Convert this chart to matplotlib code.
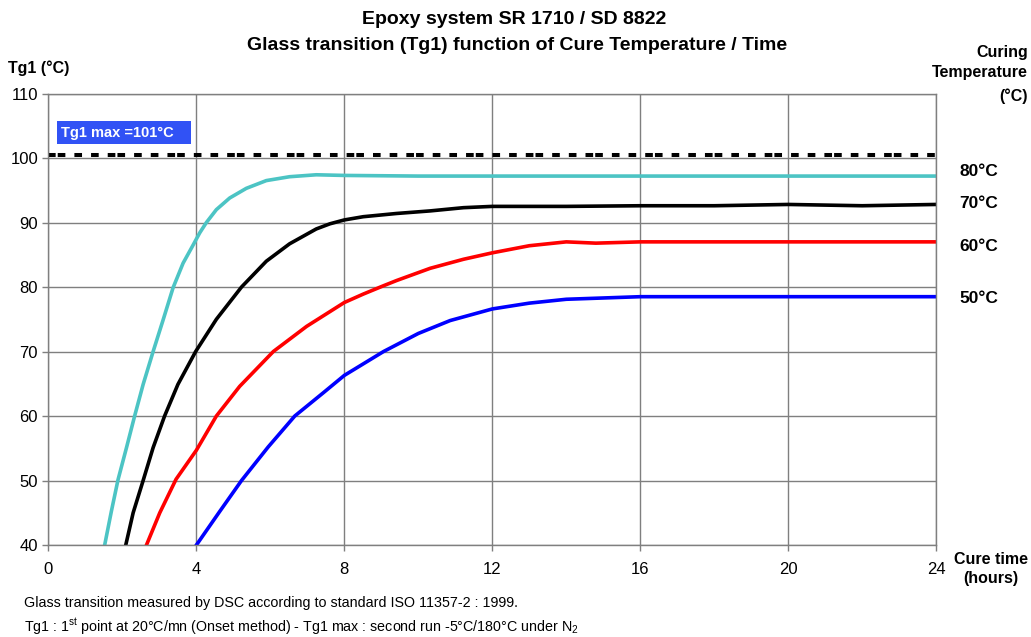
import numpy as np
import matplotlib
matplotlib.use("Agg")
import matplotlib.pyplot as plt
from matplotlib.patches import Rectangle

plt.rcParams['font.family'] = ['Liberation Sans', 'DejaVu Sans']
plt.rcParams['mathtext.default'] = 'regular'
plt.rcParams['lines.scale_dashes'] = False

# Tg1 readings (deg C) against cure time (hours), one series per curing temperature
t80 = [1.52, 1.70, 1.88, 2.11, 2.33, 2.56, 2.83, 3.10, 3.37, 3.64, 3.91, 4.09, 4.27,
       4.54, 4.90, 5.35, 5.89, 6.52, 7.24, 8, 10, 12, 16, 20, 24]
tg80 = [40, 45.2, 50.1, 55.1, 60, 64.9, 70, 74.9, 79.9, 83.7, 86.5, 88.4, 90,
        92.0, 93.8, 95.3, 96.5, 97.1, 97.4, 97.3, 97.2, 97.2, 97.2, 97.2, 97.2]

t70 = [2.09, 2.29, 2.56, 2.83, 3.14, 3.50, 3.98, 4.54, 5.22, 5.89, 6.52, 7.24, 7.61,
       8.0, 8.51, 9.41, 10.32, 11.22, 12, 13, 14, 16, 18, 20, 22, 24]
tg70 = [40, 45, 50, 55.1, 60, 64.9, 70, 75, 80, 84.0, 86.7, 89.0, 89.8,
        90.4, 90.9, 91.4, 91.8, 92.3, 92.5, 92.5, 92.5, 92.6, 92.6, 92.8, 92.6, 92.8]

t60 = [2.65, 3.01, 3.45, 4.0, 4.54, 5.17, 6.08, 6.98, 8.0, 8.51, 9.06, 9.41, 10.32,
       11.22, 12.0, 13.0, 14.0, 14.8, 16, 20, 24]
tg60 = [40, 45, 50.2, 54.7, 60, 64.6, 70, 73.9, 77.6, 78.9, 80.2, 81.0, 82.9,
        84.3, 85.3, 86.4, 87.0, 86.8, 87.0, 87.0, 87.0]

t50 = [4.0, 4.63, 5.22, 5.94, 6.66, 7.43, 8.0, 9.06, 10.0, 10.86, 12, 13, 14, 16, 20, 24]
tg50 = [40, 45.2, 50, 55.2, 60, 63.6, 66.3, 70.0, 72.8, 74.8, 76.6, 77.5, 78.1, 78.5, 78.5, 78.5]

tg1_max = 100.5
series_labels = ['80°C', '70°C', '60°C', '50°C']
label_levels = [97.9, 92.9, 86.3, 78.2]

fig = plt.figure(figsize=(10.31, 6.37), dpi=100)
ax = fig.add_axes([0.047, 0.1444, 0.861, 0.7088])

grey = '#7f7f7f'
ax.set_xlim(0, 24)
ax.set_ylim(40, 110)
ax.set_xticks(np.arange(0, 25, 4))
ax.set_yticks(np.arange(40, 111, 10))
ax.grid(True, color=grey, lw=1.0)
ax.set_axisbelow(True)
for s in ax.spines.values():
    s.set_color(grey)
    s.set_linewidth(1.0)
ax.tick_params(axis='both', colors=grey, labelcolor='black', labelsize=12,
               length=4, width=1.0)
ax.tick_params(axis='x', pad=8)

ax.plot([0, 24], [tg1_max, tg1_max], color='black', lw=2.9,
        dashes=(5.5, 1.5, 5.5, 6.5, 5.5, 6.5, 5.5, 6.5), dash_capstyle='butt')

ax.plot(t80, tg80, color='#4cc4c4', lw=2.6, solid_joinstyle='round')
ax.plot(t70, tg70, color='black', lw=2.6, solid_joinstyle='round')
ax.plot(t60, tg60, color='#ff0000', lw=2.6, solid_joinstyle='round')
ax.plot(t50, tg50, color='#0000ff', lw=2.6, solid_joinstyle='round')

for lab, lev in zip(series_labels, label_levels):
    ax.text(1.026, lev, lab, transform=ax.get_yaxis_transform(), fontsize=12.5,
            fontweight='bold', va='center', ha='left')

# Tg1 max box
ax.add_patch(Rectangle((0.23, 102.2), 3.62, 3.5, fc='#3152f5', ec='none', zorder=3))
ax.text(0.33, 103.95, 'Tg1 max =101°C', fontsize=10.5, fontweight='bold', color='white',
        va='center', ha='left', zorder=4)

fig.text(0.499, 0.969, 'Epoxy system SR 1710 / SD 8822', ha='center', va='center',
         fontsize=14, fontweight='bold')
fig.text(0.502, 0.929, 'Glass transition (Tg1) function of Cure Temperature / Time',
         ha='center', va='center', fontsize=14, fontweight='bold')
fig.text(0.008, 0.893, 'Tg1 (°C)', ha='left', va='center', fontsize=11.5, fontweight='bold')
fig.text(0.997, 0.918, 'Curing', ha='right', va='center', fontsize=11.5, fontweight='bold')
fig.text(0.997, 0.886, 'Temperature', ha='right', va='center', fontsize=11.5, fontweight='bold')
fig.text(0.997, 0.849, '(°C)', ha='right', va='center', fontsize=11.5, fontweight='bold')
fig.text(0.997, 0.121, 'Cure time', ha='right', va='center', fontsize=11.5, fontweight='bold')
fig.text(0.988, 0.092, '(hours)', ha='right', va='center', fontsize=11.5, fontweight='bold')

fig.text(0.023, 0.053, 'Glass transition measured by DSC according to standard ISO 11357-2 : 1999.',
         ha='left', va='center', fontsize=10.3)
fig.text(0.023, 0.016, 'Tg1 : 1$^{st}$ point at 20°C/mn (Onset method) - Tg1 max : second run -5°C/180°C under N$_2$',
         ha='left', va='center', fontsize=10.3)

fig.savefig('out.png', dpi=100)
